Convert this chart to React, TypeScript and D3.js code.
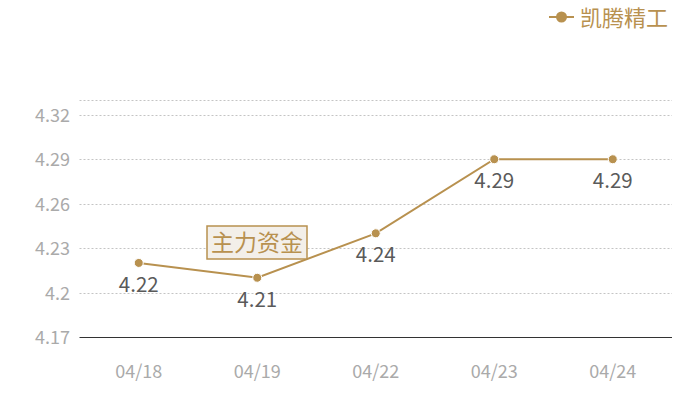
import React from "react";
import * as d3 from "d3";

const categories = ["04/18", "04/19", "04/22", "04/23", "04/24"];
const values = [4.22, 4.21, 4.24, 4.29, 4.29];
const yTicks = [4.17, 4.2, 4.23, 4.26, 4.29, 4.32];
const yMax = 4.33;
const seriesName = "凯腾精工";
const annotation = "主力资金";

const W = 700, H = 400;
const left = 79.5, right = 672, top = 100, bottom = 337;
const gold = "#b8914f";
const font = "'Noto Sans CJK SC', 'Noto Sans', sans-serif";

export default function App() {
  const x = d3.scaleBand<string>().domain(categories).range([left, right]);
  const y = d3.scaleLinear().domain([yTicks[0], yMax]).range([bottom, top]);
  const cx = (c: string) => (x(c) as number) + x.bandwidth() / 2;
  const line = d3
    .line<number>()
    .x((_, i) => cx(categories[i]))
    .y((d) => y(d));
  const gridVals = [...yTicks.slice(1), yMax];
  const crisp = (v: number) => Math.round(v) + 0.5;
  return (
    <svg width={W} height={H} style={{ position: "absolute", left: 0, top: 0 }} fontFamily={font}>
      {gridVals.map((t) => (
        <line key={t} x1={left} x2={right} y1={crisp(y(t))} y2={crisp(y(t))} stroke="#c4c4c4" strokeDasharray="2,2" strokeWidth={1} />
      ))}
      <line x1={left} x2={right} y1={crisp(bottom)} y2={crisp(bottom)} stroke="#333" strokeWidth={1} />
      {yTicks.map((t) => (
        <text key={t} x={70} y={y(t) + 7} textAnchor="end" fontSize={18} fill="#aaa">
          {String(+t.toFixed(2))}
        </text>
      ))}
      {categories.map((c) => (
        <text key={c} x={cx(c)} y={378} textAnchor="middle" fontSize={18} fill="#aaa">
          {c}
        </text>
      ))}
      <path d={line(values) || ""} fill="none" stroke={gold} strokeWidth={2} />
      {values.map((v, i) => (
        <circle key={i} cx={cx(categories[i])} cy={y(v)} r={4.5} fill={gold} stroke="#fff" strokeWidth={1} />
      ))}
      {values.map((v, i) => (
        <text key={"l" + i} x={cx(categories[i])} y={y(v) + 29} textAnchor="middle" fontSize={20.5} fill="#5a5a5a">
          {v.toFixed(2)}
        </text>
      ))}
      <rect x={207} y={226} width={100} height={33} fill="#f3efe9" stroke={gold} strokeWidth={1.5} />
      <text x={257} y={251} textAnchor="middle" fontSize={23} fill={gold}>
        {annotation}
      </text>
      <line x1={549} x2={574} y1={17} y2={17} stroke={gold} strokeWidth={2} />
      <circle cx={561.5} cy={17} r={5.5} fill={gold} />
      <text x={580} y={26} fontSize={22} fill={gold}>
        {seriesName}
      </text>
    </svg>
  );
}
